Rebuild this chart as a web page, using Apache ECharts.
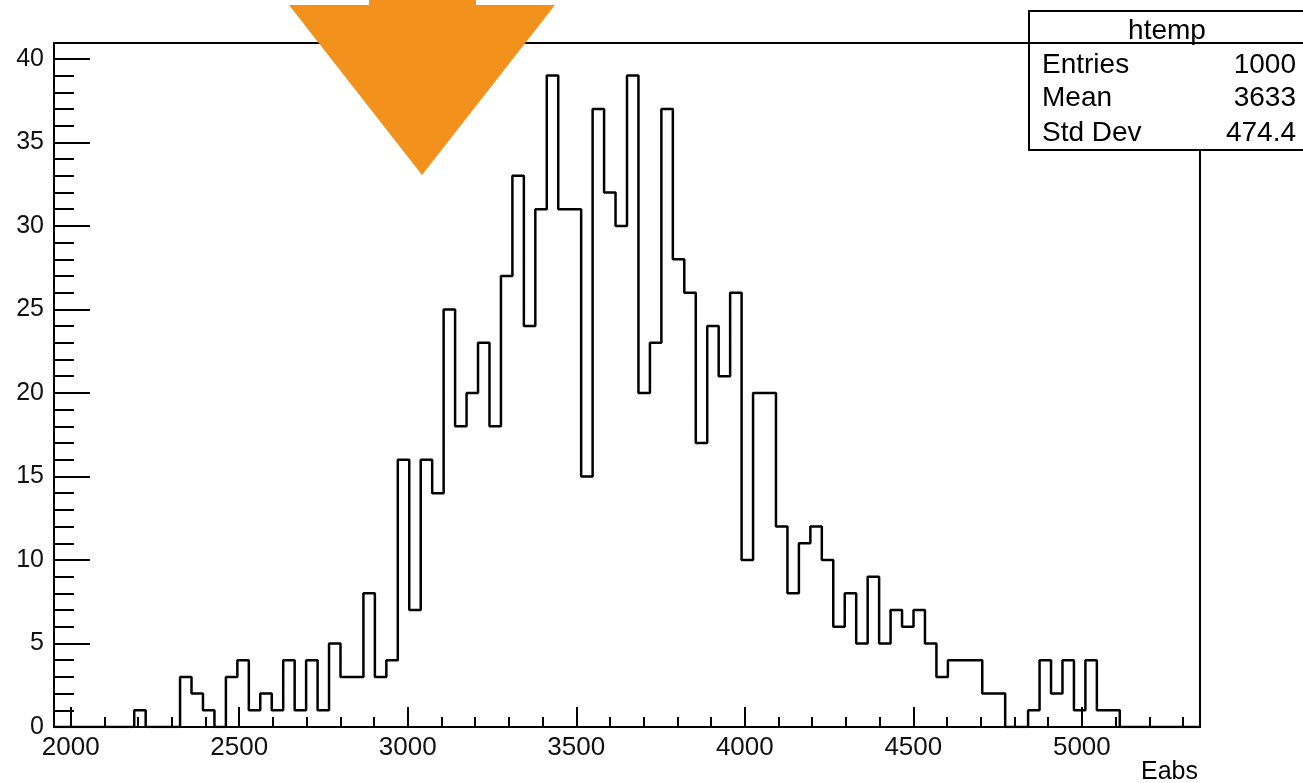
<!DOCTYPE html>
<html><head><meta charset="utf-8">
<script src="https://cdn.jsdelivr.net/npm/echarts@6/dist/echarts.min.js"></script>
<style>html,body{margin:0;padding:0;background:#fff}#c{width:1303px;height:783px}</style>
</head><body><div id="c"></div>
<script>
const histName = 'htemp';
const xTitle = 'Eabs';
const binStart = 1950.5;
const binWidth = 34;
const binCount = 100;
const counts = [
  0,0,0,0,0,0,0,1,0,0,
  0,3,2,1,0,3,4,1,2,1,
  4,1,4,1,5,3,3,8,3,4,
  16,7,16,14,25,18,20,23,18,27,
  33,24,31,39,31,31,15,37,32,30,
  39,20,23,37,28,26,17,24,21,26,
  10,20,20,12,8,11,12,10,6,8,
  5,9,5,7,6,7,5,3,4,4,
  4,2,2,0,0,1,4,2,4,1,
  4,1,1,0,0,0,0,0,0,0
];
const xMajorTicks = [2000,2500,3000,3500,4000,4500,5000];
const xMinorTicks = [2000,2100,2200,2300,2400,2500,2600,2700,2800,2900,3000,3100,3200,3300,3400,3500,3600,3700,3800,3900,4000,4100,4200,4300,4400,4500,4600,4700,4800,4900,5000,5100,5200,5300];
const yMajorTicks = [0,5,10,15,20,25,30,35,40];
const yMinorTicks = [0,1,2,3,4,5,6,7,8,9,10,11,12,13,14,15,16,17,18,19,20,21,22,23,24,25,26,27,28,29,30,31,32,33,34,35,36,37,38,39,40];
const yMax = 40.95;
const statsLabels = ['Entries','Mean','Std Dev'];
const statsValues = ['1000','3633','474.4'];

const xMin = binStart;
const xMax = binStart + binCount * binWidth;
const stepData = counts.map((c, i) => [binStart + i * binWidth, c]);
stepData.push([xMax, counts[counts.length - 1]]);

const FONT = '"Liberation Sans", Arial, Helvetica, sans-serif';
const black = '#000';

const chart = echarts.init(document.getElementById('c'), null, {renderer: 'canvas'});

const statRows = [];
statsLabels.forEach((lab, i) => {
  const y = [65, 98, 133][i];
  statRows.push({type:'text', z:102, style:{text:lab, x:1042, y:y, fill:black, font:'28px ' + FONT, textAlign:'left', textVerticalAlign:'middle'}});
  statRows.push({type:'text', z:102, style:{text:statsValues[i], x:1296, y:y, fill:black, font:'28px ' + FONT, textAlign:'right', textVerticalAlign:'middle'}});
});

chart.setOption({
  animation: false,
  backgroundColor: '#fff',
  grid: {left: 54, right: 103, top: 43, bottom: 56, show: true, borderColor: black, borderWidth: 2, backgroundColor: 'transparent'},
  xAxis: [
    {type:'value', min:xMin, max:xMax, position:'bottom',
     axisLine:{show:true, lineStyle:{color:black, width:2}},
     axisTick:{show:true, inside:true, length:20, customValues:xMajorTicks, lineStyle:{color:black, width:2}},
     axisLabel:{show:true, customValues:xMajorTicks, fontSize:26, fontFamily:FONT, color:'#111', margin:8, formatter:(v) => String(v)},
     splitLine:{show:false}},
    {type:'value', min:xMin, max:xMax, position:'bottom',
     axisLine:{show:false},
     axisTick:{show:true, inside:true, length:10, customValues:xMinorTicks, lineStyle:{color:black, width:2}},
     axisLabel:{show:false},
     splitLine:{show:false}}
  ],
  yAxis: [
    {type:'value', min:0, max:yMax, position:'left',
     axisLine:{show:true, lineStyle:{color:black, width:2}},
     axisTick:{show:true, inside:true, length:36, customValues:yMajorTicks, lineStyle:{color:black, width:2}},
     axisLabel:{show:true, customValues:yMajorTicks, fontSize:25, fontFamily:FONT, color:'#111', margin:10, formatter:(v) => String(v)},
     splitLine:{show:false}},
    {type:'value', min:0, max:yMax, position:'left',
     axisLine:{show:false},
     axisTick:{show:true, inside:true, length:20, customValues:yMinorTicks, lineStyle:{color:black, width:2}},
     axisLabel:{show:false},
     splitLine:{show:false}}
  ],
  series: [{
    type:'line', name:histName, xAxisIndex:0, yAxisIndex:0, step:'end',
    data: stepData, showSymbol:false, symbol:'none',
    lineStyle:{color:black, width:2.5}, z:5
  }],
  graphic: [
    {type:'text', z:50, style:{text:xTitle, x:638, y:-7.5, fill:'#333', font:'25px ' + FONT, textAlign:'center', textVerticalAlign:'middle'}},
    {type:'text', z:50, style:{text:xTitle, x:1198, y:772, fill:black, font:'25px ' + FONT, textAlign:'right', textVerticalAlign:'middle'}},
    {type:'rect', z:100, shape:{x:1029, y:11, width:285, height:139}, style:{fill:'#fff', stroke:black, lineWidth:2}},
    {type:'line', z:101, shape:{x1:1029, y1:43, x2:1310, y2:43}, style:{stroke:black, lineWidth:2}},
    {type:'text', z:102, style:{text:histName, x:1167, y:31, fill:black, font:'28px ' + FONT, textAlign:'center', textVerticalAlign:'middle'}},
    ...statRows,
    {type:'polygon', z:120, shape:{points:[[369,0],[476,0],[476,5],[555,5],[422,175],[289,5],[369,5]]}, style:{fill:'#F2921C'}}
  ]
});
</script>
</body></html>
